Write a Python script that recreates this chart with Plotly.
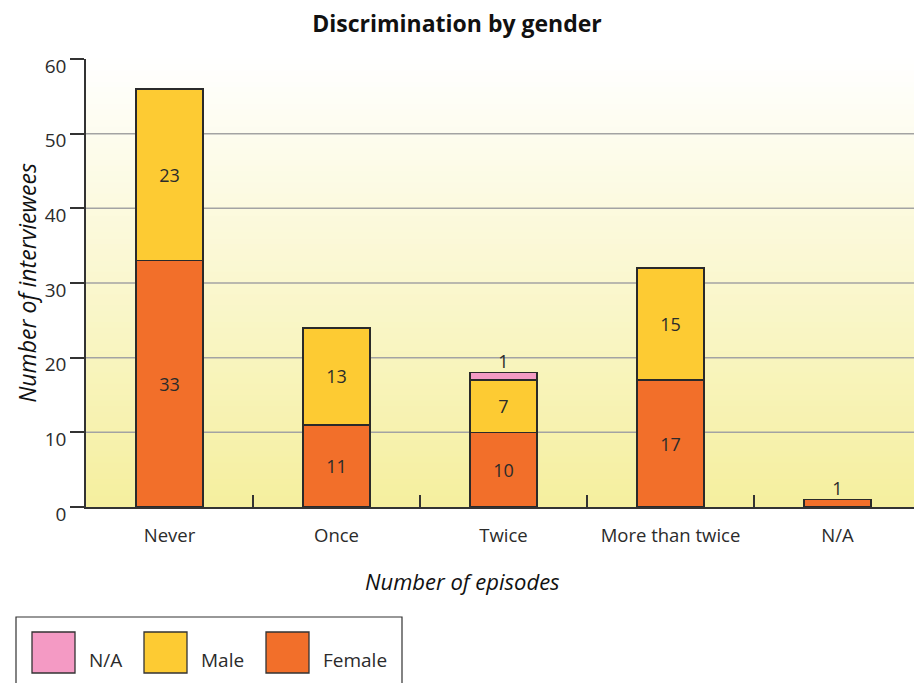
import plotly.graph_objects as go

categories = ["Never", "Once", "Twice", "More than twice", "N/A"]
female = [33, 11, 10, 17, 1]
male = [23, 13, 7, 15, 0]
na = [0, 0, 1, 0, 0]
y_ticks = [0, 10, 20, 30, 40, 50, 60]

series = [("Female", female, "#F26F2A"), ("Male", male, "#FDCB33"), ("N/A", na, "#F49AC4")]

W, H = 914, 683
ML, MT, MR = 86, 59, 0
PW = 828
PH = 448
MB = H - MT - PH
FONT = "Open Sans"
TXT = "#2b2b2b"

def px2x(px):
    return (px - ML) / PW

def py2y(py):
    return (MT + PH - py) / PH

fig = go.Figure()
for name, vals, col in series:
    fig.add_trace(go.Bar(
        x=categories, y=[v if v else None for v in vals], name=name,
        marker=dict(color=col, line=dict(color="#2a2a2a", width=1.5)),
        width=0.4, text=[str(v) if v >= 2 else "" for v in vals],
        textposition="inside", insidetextanchor="middle", textangle=0,
        textfont=dict(family=FONT, size=18, color=TXT), constraintext="none",
        showlegend=False, hoverinfo="skip"))

totals = [f + m + n for f, m, n in zip(female, male, na)]
top_vals = []
for i in range(len(categories)):
    top = [s[1][i] for s in series if s[1][i]][-1]
    top_vals.append(str(top) if top < 2 else "")
fig.add_trace(go.Scatter(x=categories, y=totals, mode="text", text=top_vals,
                         textposition="top center", cliponaxis=False,
                         textfont=dict(family=FONT, size=18, color=TXT),
                         showlegend=False, hoverinfo="skip"))

shapes = []
N = 80
top_c = (255, 255, 255)
bot_c = (245, 239, 158)
for i in range(N):
    t = (i + 0.5) / N
    c = tuple(round(bot_c[k] + (top_c[k] - bot_c[k]) * t) for k in range(3))
    shapes.append(dict(type="rect", xref="x domain", yref="y domain",
                       x0=0, x1=1, y0=i / N, y1=(i + 1) / N + 0.002, layer="below",
                       line=dict(width=0), fillcolor="rgb(%d,%d,%d)" % c))
for v in y_ticks[1:-1]:
    shapes.append(dict(type="line", xref="x domain", yref="y", x0=0, x1=1, y0=v, y1=v,
                       layer="below", line=dict(color="#A3A3A3", width=1.5)))

# custom legend
shapes.append(dict(type="rect", xref="paper", yref="paper", x0=px2x(16), x1=px2x(402),
                   y0=py2y(617), y1=py2y(700), line=dict(color="#333333", width=1.2),
                   fillcolor="rgba(0,0,0,0)"))
annotations = []
leg_x = [32, 144, 266]
for (name, vals, col), lx in zip(series[::-1], leg_x):
    shapes.append(dict(type="rect", xref="paper", yref="paper", x0=px2x(lx), x1=px2x(lx + 43),
                       y0=py2y(673), y1=py2y(632), line=dict(color="#333333", width=1.3),
                       fillcolor=col))
    annotations.append(dict(xref="paper", yref="paper", x=px2x(lx + 55), y=py2y(660),
                            xanchor="left", yanchor="middle", text=name, showarrow=False,
                            font=dict(family=FONT, size=19, color=TXT)))

annotations.append(dict(xref="paper", yref="paper", x=px2x(462), y=py2y(581),
                        xanchor="center", yanchor="middle", text="Number of episodes",
                        showarrow=False,
                        font=dict(family=FONT, size=22, color="#111111", style="italic")))

fig.update_layout(
    width=W, height=H, margin=dict(l=ML, r=MR, t=MT, b=MB),
    paper_bgcolor="white", plot_bgcolor="white", barmode="stack",
    title=dict(text="<b>Discrimination by gender</b>", x=0.5, xref="container",
               y=1 - 24 / H, yanchor="middle", xanchor="center",
               font=dict(family=FONT, size=23, color="#111111")),
    shapes=shapes, annotations=annotations, showlegend=False,
    xaxis=dict(range=[-0.5, -0.5 + PW / 167], showgrid=False, showline=True,
               linecolor="#333333", linewidth=1.5, ticks="inside", tickson="boundaries",
               ticklen=12, tickwidth=1.5, tickcolor="#333333",
               tickfont=dict(family=FONT, size=18.5, color=TXT), ticklabelstandoff=11),
    yaxis=dict(range=[0, 60], tickvals=y_ticks, showgrid=False, zeroline=False,
               showline=True, linecolor="#333333", linewidth=1.5, ticks="outside",
               ticklen=14, tickwidth=1.5, tickcolor="#333333", ticklabelshift=7,
               tickfont=dict(family=FONT, size=19, color=TXT),
               title=dict(text="Number of interviewees", standoff=2,
                          font=dict(family=FONT, size=23, color="#111111", style="italic"))),
)

fig.write_html("out.html")
